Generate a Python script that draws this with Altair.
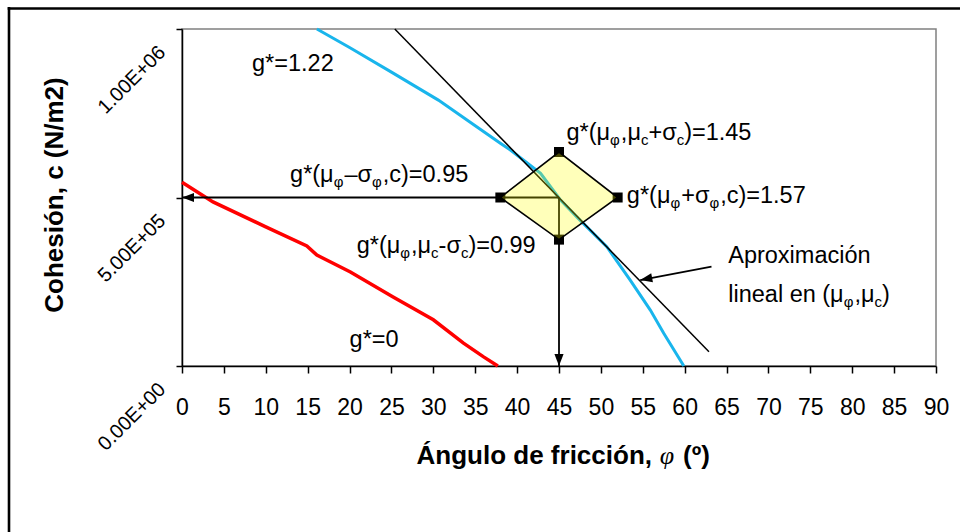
import altair as alt
import pandas as pd
import math

# ---------------- data ----------------
red_phi = [0, 3.7, 10, 14.9, 16.1, 20.1, 25.2, 30.0, 33.6, 36.0, 37.7]
red_c = [5.45e5, 4.87e5, 4.13e5, 3.56e5, 3.29e5, 2.79e5, 2.05e5, 1.37e5, 0.68e5, 0.27e5, 0]

cyan_phi = [16.1, 20, 25, 30.6, 35, 38.0, 39.2, 42.8, 45.1, 47.5, 50.7, 53.5, 55.9, 57.5, 59.9]
cyan_c = [1.0e6, 0.945e6, 0.872e6, 0.789e6, 0.713e6, 0.661e6, 0.641e6, 0.572e6,
          0.495e6, 0.433e6, 0.354e6, 0.255e6, 0.166e6, 0.097e6, 0]

tan_phi = [25.4, 62.9]
tan_c = [1.0e6, 4.2e4]

mu_phi, sd_phi = 45, 7
mu_c = 5.0e5
c_hi, c_lo = 6.35e5, 3.75e5

note_arrow_phi = [63.2, 54.7]
note_arrow_c = [2.95e5, 2.55e5]

x_ticks = list(range(0, 95, 5))
y_ticks = [0, 5e5, 1e6]

# ---------------- layout ----------------
W, H = 754, 337
PL, PT = 182, 29
KX = W / 90.0          # px per degree
KY = H / 1e6           # px per N/m2
FONT = "Liberation Sans"
MAIN, SUB = 23.5, 15

x_scale = alt.Scale(domain=[0, 90], nice=False, zero=False)
y_scale = alt.Scale(domain=[0, 1e6], nice=False, zero=False)

x_axis = alt.Axis(values=x_ticks, title=None, grid=False, domainColor="black", domainWidth=1.5,
                  tickColor="black", tickWidth=1.5, tickSize=7, labelFontSize=23, labelFont=FONT,
                  labelColor="black", labelPadding=23, labelFlush=False, labelOverlap=False)
ylab = ("datum.value == 0 ? '0.00E+00' : format(datum.value / pow(10, floor(log(datum.value)/LN10 + 1e-9)), '.2f')"
        " + 'E+' + (floor(log(datum.value)/LN10 + 1e-9) < 10 ? '0' : '') + floor(log(datum.value)/LN10 + 1e-9)")
y_axis = alt.Axis(values=y_ticks, title=None, grid=False, domainColor="black", domainWidth=1.5,
                  tickColor="black", tickWidth=1.5, tickSize=6, labelFontSize=20, labelFont=FONT,
                  labelColor="black", labelAngle=315, labelAlign="right", labelBaseline="middle",
                  labelPadding=14, labelOffset=20, labelExpr=ylab, labelFlush=False, labelOverlap=False,
                  labelBound=False)

X = alt.X("phi:Q", scale=x_scale, axis=x_axis)
Y = alt.Y("c:Q", scale=y_scale, axis=y_axis)

def line(phis, cs, color, width):
    df = pd.DataFrame({"phi": phis, "c": cs, "o": range(len(phis))})
    return alt.Chart(df).mark_line(color=color, strokeWidth=width).encode(x=X, y=Y, order="o:Q")

red = line(red_phi, red_c, "#FF0000", 3.5)
cyan = line(cyan_phi, cyan_c, "#19B5EC", 3)
tangent = line(tan_phi, tan_c, "black", 1.5)
harrow = line([mu_phi, 0], [mu_c, mu_c], "black", 1.8)
varrow = line([mu_phi, mu_phi], [mu_c, 0], "black", 1.8)
narrow = line(note_arrow_phi, note_arrow_c, "black", 1.8)

# arrow heads (tip at origin of path)
def head(phi, c, path):
    df = pd.DataFrame({"phi": [phi], "c": [c]})
    return alt.Chart(df).mark_point(shape=path, filled=True, color="black", opacity=1,
                                    size=576, strokeWidth=0).encode(x=X, y=Y)

dxp = (note_arrow_phi[0] - note_arrow_phi[1]) * KX
dyp = -(note_arrow_c[0] - note_arrow_c[1]) * KY
L = math.hypot(dxp, dyp)
bx, by = dxp / L, dyp / L
nx, ny = -by * 0.38, bx * 0.38
note_path = "M0,0 L%.3f,%.3f L%.3f,%.3f Z" % (bx + nx, by + ny, bx - nx, by - ny)

heads = [
    head(0, mu_c, "M0,0 L1,-0.38 L1,0.38 Z"),
    head(mu_phi, 0, "M0,0 L-0.38,-1 L0.38,-1 Z"),
    head(note_arrow_phi[1], note_arrow_c[1], note_path),
]

# squares at the four evaluation points
sq_df = pd.DataFrame({"phi": [mu_phi - sd_phi, mu_phi, mu_phi + sd_phi, mu_phi],
                      "c": [mu_c, c_hi, mu_c, c_lo]})
squares = alt.Chart(sq_df).mark_point(shape="square", filled=True, color="black", opacity=1,
                                      size=100).encode(x=X, y=Y)

# diamond
dia_df = pd.DataFrame({"phi": [mu_phi - sd_phi, mu_phi, mu_phi + sd_phi],
                       "c": [mu_c, c_hi, mu_c], "c2": [mu_c, c_lo, mu_c]})
diamond = alt.Chart(dia_df).mark_area(fill="#FFFF00", fillOpacity=0.27, stroke="black",
                                      strokeWidth=1.6, strokeOpacity=1).encode(x=X, y=Y, y2="c2:Q")

# ---------------- annotations with sub-scripts ----------------
CW = {"g": .556, "*": .389, "(": .333, ")": .333, "=": .584, ".": .278, ",": .278, "+": .584,
      "-": .333, "–": .556, "c": .5, " ": .278, "l": .222, "i": .222, "n": .556, "e": .556,
      "a": .556, "μ": .576, "σ": .617, "φ": .717, "A": .667, "p": .556, "r": .333, "o": .556,
      "x": .5, "m": .833, "ó": .556}

def tw(s, size):
    return sum(CW.get(ch, .556) for ch in s) * size

notes = [
    (8.36, 0.875e6, [("g*=1.22", 0)]),
    (20.0, 0.057e6, [("g*=0", 0)]),
    (12.9, 0.547e6, [("g*(", 0), ("μ", 0), ("φ", 1), ("–", 0), ("σ", 0), ("φ", 1), (",c)=0.95", 0)]),
    (20.85, 0.334e6, [("g*(", 0), ("μ", 0), ("φ", 1), (",", 0), ("μ", 0), ("c", 1), ("-", 0),
                      ("σ", 0), ("c", 1), (")=0.99", 0)]),
    (45.9, 0.671e6, [("g*(", 0), ("μ", 0), ("φ", 1), (",", 0), ("μ", 0), ("c", 1), ("+", 0),
                     ("σ", 0), ("c", 1), (")=1.45", 0)]),
    (53.1, 0.483e6, [("g*(", 0), ("μ", 0), ("φ", 1), ("+", 0), ("σ", 0), ("φ", 1), (",c)=1.57", 0)]),
    (65.2, 0.305e6, [("Aproximación", 0)]),
    (65.2, 0.191e6, [("lineal en (", 0), ("μ", 0), ("φ", 1), (",", 0), ("μ", 0), ("c", 1), (")", 0)]),
]
rows = []
for phi0, c0, segs in notes:
    off = 0.0
    for txt, sub in segs:
        size = SUB if sub else MAIN
        rows.append({"phi": phi0 + off / KX, "c": c0 - (5 if sub else 0) / KY, "t": txt, "s": size})
        off += tw(txt, size)
txt_df = pd.DataFrame(rows)
texts = alt.Chart(txt_df).mark_text(align="left", baseline="alphabetic", font=FONT, color="black").encode(
    x=X, y=Y, text="t:N", size=alt.Size("s:Q", scale=None))

# ---------------- titles and outer frame (pixel placed) ----------------
one = pd.DataFrame({"k": [0]})
TB = 464
ytitle = alt.Chart(one).mark_text(text="Cohesión, c (N/m2)", angle=270, font=FONT, fontSize=26,
                                  fontWeight="bold", align="center", baseline="middle", color="black").encode(
    x=alt.value(55 - PL), y=alt.value(195 - PT))
xt1 = alt.Chart(one).mark_text(text="Ángulo de fricción,", font=FONT, fontSize=26, fontWeight="bold",
                               align="right", baseline="alphabetic", color="black").encode(
    x=alt.value(652 - PL), y=alt.value(TB - PT))
xt2 = alt.Chart(one).mark_text(text="φ", font="Liberation Serif", fontSize=26, fontStyle="italic",
                               align="center", baseline="alphabetic", color="black").encode(
    x=alt.value(667 - PL), y=alt.value(TB - PT))
xt3 = alt.Chart(one).mark_text(text="(º)", font=FONT, fontSize=26, fontWeight="bold",
                               align="left", baseline="alphabetic", color="black").encode(
    x=alt.value(683 - PL), y=alt.value(TB - PT))
frame_l = alt.Chart(one).mark_rule(color="black", strokeWidth=2.6).encode(
    x=alt.value(9 - PL), y=alt.value(7 - PT), y2=alt.value(600))
frame_t = alt.Chart(one).mark_rule(color="black", strokeWidth=2.6).encode(
    y=alt.value(8.5 - PT), x=alt.value(7.7 - PL), x2=alt.value(1000))

chart = alt.layer(
    red, cyan, tangent, harrow, varrow, narrow, *heads, squares, diamond, texts,
    ytitle, xt1, xt2, xt3, frame_l, frame_t
).properties(
    width=W, height=H, autosize="none",
    padding={"left": PL, "top": PT, "right": 960 - PL - W, "bottom": 532 - PT - H},
    background="white",
).configure_view(stroke="#808080", strokeWidth=1.5)

chart.save("out.html", embed_options={"renderer": "svg", "actions": False})
